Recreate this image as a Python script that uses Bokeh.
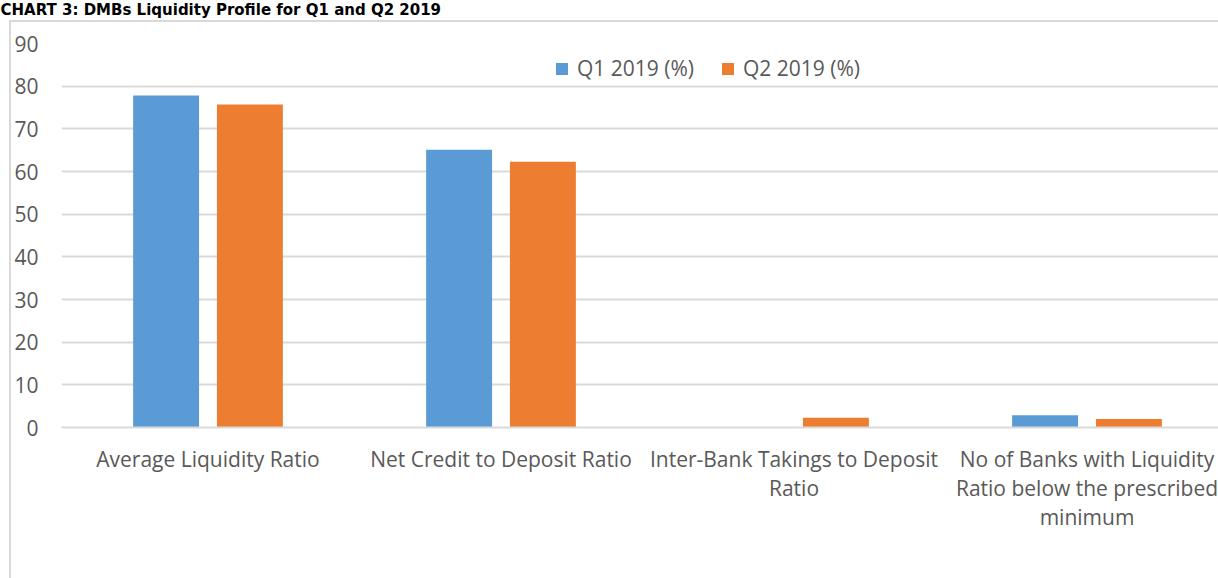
from bokeh.plotting import figure
from bokeh.models import Range1d, FixedTicker, Legend, LegendItem, ColumnDataSource
from bokeh.embed import file_html
from bokeh.resources import INLINE

categories = ["Average Liquidity Ratio", "Net Credit to Deposit Ratio",
              "Inter-Bank Takings to Deposit\nRatio",
              "No of Banks with Liquidity\nRatio below the prescribed\nminimum"]
q1_values = [77.8, 65.1, 0.0, 2.9]
q2_values = [75.7, 62.3, 2.3, 2.0]
series_names = ["Q1 2019 (%)", "Q2 2019 (%)"]
y_ticks = [0, 10, 20, 30, 40, 50, 60, 70, 80, 90]
title_text = "CHART 3: DMBs Liquidity Profile for Q1 and Q2 2019"

BLUE = "#5b9bd5"
ORANGE = "#ed7d31"
GRID = "#d9d9d9"
TXT = "#595959"
FONT = "Open Sans"
FS = "21px"

idx = list(range(len(categories)))
offset = 0.143
bw = 0.225
src = ColumnDataSource(dict(
    x1=[i - offset for i in idx], x2=[i + offset for i in idx],
    q1=q1_values, q2=q2_values))

W, H = 1218, 578
left, top, bottom = 61, 43, 151
frame_w = W - left
p = figure(width=W, height=H, output_backend="svg", toolbar_location=None,
           x_range=Range1d(-0.5, -0.5 + frame_w / 293.0), y_range=Range1d(0, 90),
           min_border_left=left, min_border_top=top, min_border_bottom=bottom,
           min_border_right=0)
p.outline_line_color = None
p.background_fill_color = "white"
p.border_fill_alpha = 0
# chart border (left and top edges) drawn behind the transparent canvas
p.styles = {"background": (
    f"linear-gradient({GRID},{GRID}) 9px 20px / 2px 100% no-repeat, "
    f"linear-gradient({GRID},{GRID}) 9px 20px / 100% 2px no-repeat, #ffffff")}

# title (second blank line lifts the text to the top of the border area)
p.title.text = title_text + "\n "
p.title.text_font = "DejaVu Sans"
p.title.text_font_style = "bold"
p.title.text_font_size = "15px"
p.title.text_line_height = 1.3
p.title.text_color = "black"
p.title.align = "left"
p.title.vertical_align = "top"
p.title.offset = -left
p.title.standoff = 0

r1 = p.vbar(x="x1", top="q1", width=bw, source=src, fill_color=BLUE, line_color=None)
r2 = p.vbar(x="x2", top="q2", width=bw, source=src, fill_color=ORANGE, line_color=None)

# axes
p.xaxis.ticker = FixedTicker(ticks=idx)
p.xaxis.major_label_overrides = {i: c for i, c in zip(idx, categories)}
p.xaxis.major_tick_line_color = None
p.xaxis.minor_tick_line_color = None
p.xaxis.axis_line_color = GRID
p.xaxis.axis_line_width = 2
p.xaxis.major_label_text_font = FONT
p.xaxis.major_label_text_font_size = FS
p.xaxis.major_label_text_color = TXT
p.xaxis.major_label_text_line_height = 1.05
p.xaxis.major_label_standoff = 11

p.yaxis.ticker = FixedTicker(ticks=y_ticks)
p.yaxis.major_tick_line_color = None
p.yaxis.minor_tick_line_color = None
p.yaxis.axis_line_color = None
p.yaxis.major_label_text_font = FONT
p.yaxis.major_label_text_font_size = FS
p.yaxis.major_label_text_color = TXT
p.yaxis.major_label_standoff = 17

p.xgrid.grid_line_color = None
p.ygrid.ticker = FixedTicker(ticks=y_ticks)
p.ygrid.grid_line_color = GRID
p.ygrid.grid_line_width = 2

legend = Legend(items=[LegendItem(label=series_names[0], renderers=[r1]),
                       LegendItem(label=series_names[1], renderers=[r2])],
                orientation="horizontal", location=(493, 345),
                label_text_font=FONT, label_text_font_size=FS,
                label_text_color=TXT, glyph_width=15, glyph_height=15,
                label_standoff=8, spacing=26, padding=0, margin=0,
                border_line_color=None, background_fill_alpha=0)
p.add_layout(legend, "center")

open("out.html", "w").write(file_html(p, INLINE))
